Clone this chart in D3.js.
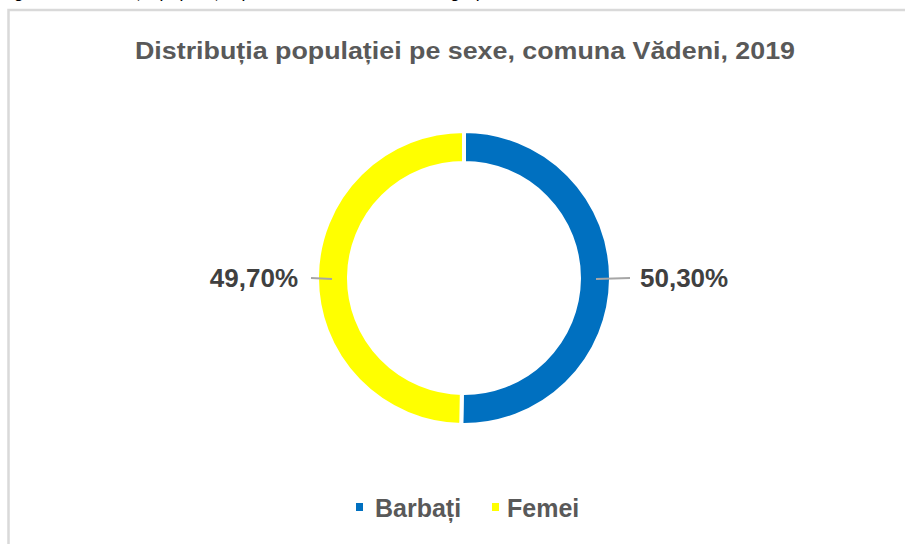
<!DOCTYPE html>
<html>
<head>
<meta charset="utf-8">
<script src="https://cdn.jsdelivr.net/npm/d3@7"></script>
<style>
  body { margin: 0; background: #fff; }
  svg { display: block; font-family: "Liberation Sans", Arial, sans-serif; }
</style>
</head>
<body>
<div class="donut-chart"></div>
<script>
(function() {

    // data
    var categories = ["Barbați", "Femei"];
    var shares = [50.30, 49.70];
    var colors = ["#0070C0", "#FFFF00"];
    var title = "Distribuția populației pe sexe, comuna Vădeni, 2019";
    var caption = "Figura 3. Distribuția populației pe sexe, comuna Vădeni, grupe de vârstă";

    var width = 905, height = 544;
    var cx = 464, cy = 278;
    var outerR = 147, innerR = 115;

    var svg = d3.select(".donut-chart")
        .append("svg")
        .attr("width", width)
        .attr("height", height);

    // cut-off caption from the document above the chart
    svg.append("text")
        .attr("x", 0)
        .attr("y", -3)
        .style("font-style", "italic")
        .style("font-size", "18px")
        .attr("fill", "#000")
        .text(caption);

    // chart frame (runs off the right and bottom of the picture)
    svg.append("rect")
        .attr("x", 8.5)
        .attr("y", 10)
        .attr("width", 1000)
        .attr("height", 1000)
        .attr("fill", "#fff")
        .attr("stroke", "#D9D9D9")
        .attr("stroke-width", 2.5);

    svg.append("text")
        .attr("x", 465)
        .attr("y", 59)
        .attr("text-anchor", "middle")
        .attr("textLength", 660)
        .attr("lengthAdjust", "spacingAndGlyphs")
        .style("font-size", "23px")
        .style("font-weight", "bold")
        .attr("fill", "#595959")
        .text(title);

    var data = categories.map(function(c, i) { return { name: c, value: shares[i] }; });

    var color = d3.scaleOrdinal()
        .domain(categories)
        .range(colors);

    var pie = d3.pie()
        .sort(null)
        .value(function(d) { return d.value; });

    var arc = d3.arc()
        .outerRadius(outerR)
        .innerRadius(innerR);

    var g = svg.append("g")
        .attr("transform", "translate(" + cx + "," + cy + ")");

    var slices = pie(data);

    g.selectAll(".arc")
        .data(slices)
        .enter().append("path")
        .attr("class", "arc")
        .attr("d", arc)
        .attr("fill", function(d) { return color(d.data.name); })
        .attr("stroke", "#fff")
        .attr("stroke-width", 4);

    // leader lines + labels
    slices.forEach(function(d) {
        var right = d.data.name === categories[0];
        var sx = right ? 1 : -1;
        var inner = right ? outerR - 15 : outerR - 15;
        var outer = right ? outerR + 19 : outerR + 6;
        var gap = right ? 10 : 13;
        g.append("line")
            .attr("x1", sx * inner).attr("y1", 1)
            .attr("x2", sx * outer).attr("y2", 0)
            .attr("stroke", "#A6A6A6")
            .attr("stroke-width", 2);
        g.append("text")
            .attr("x", sx * (outer + gap))
            .attr("y", 9)
            .attr("text-anchor", right ? "start" : "end")
            .style("font-size", "26px")
            .style("font-weight", "bold")
            .attr("fill", "#404040")
            .text(d3.format(".2f")(d.data.value).replace(".", ",") + "%");
    });

    // legend
    var legendX = [356, 492];
    var legend = svg.selectAll(".legend")
        .data(categories)
        .enter().append("g")
        .attr("class", "legend")
        .attr("transform", function(d, i) { return "translate(" + legendX[i] + ",517)"; });

    legend.append("rect")
        .attr("x", 0)
        .attr("y", -14)
        .attr("width", 7)
        .attr("height", 8)
        .attr("fill", color);

    legend.append("text")
        .attr("x", function(d, i) { return i === 0 ? 19 : 15; })
        .attr("y", 0)
        .style("font-size", "25px")
        .style("font-weight", "bold")
        .attr("fill", "#595959")
        .text(function(d) { return d; });
})();
</script>
</body>
</html>
